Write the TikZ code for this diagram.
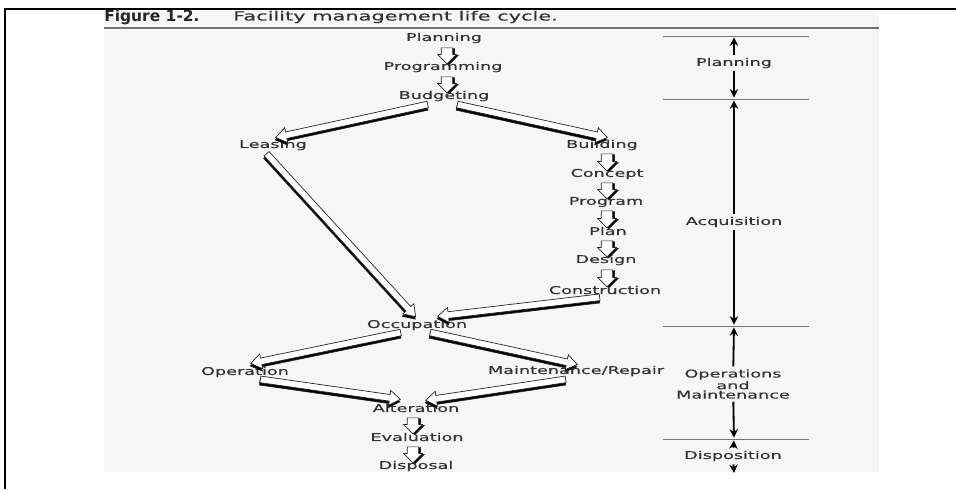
\documentclass[tikz,border=0pt]{standalone}
\usepackage{fontspec}
\setmainfont{DejaVu Sans}
\newfontfamily\widefont[FakeStretch=1.65,FakeBold=0.4]{DejaVu Sans}
\usetikzlibrary{calc,shapes.arrows,arrows.meta}

\definecolor{bg}{HTML}{F6F6F6}

\tikzset{
  lbl/.style={inner sep=0pt, text=black!80, font=\widefont\fontsize{7.6}{6.6}\selectfont},
  fat/.style={single arrow, draw=black!85, fill=white, line width=0.5pt, inner xsep=0pt,
    inner ysep=2.1pt, single arrow head extend=3pt, single arrow tip angle=70},
  stubby/.style={inner ysep=3.8pt, single arrow head extend=2.6pt, single arrow tip angle=90,
    shadowoff={(1.3pt,-0.7pt)}},
  shadowoff/.store in=\shoff,
  tick/.style={draw=black!55, line width=0.6pt},
  span/.style={line width=1.3pt, shorten >=1pt, shorten <=2pt, -{Stealth[length=6pt,width=6pt]}},
}

% hollow block arrow from #2 to #3, with a black copy under it
\newcommand{\blockarrow}[3][]{%
  \path[shadowoff={(-0.3pt,-1.7pt)},#1] let \p1=(#2), \p2=(#3),
      \n1={veclen(\x2-\x1,\y2-\y1)}, \n2={atan2(\y2-\y1,\x2-\x1)} in
    ([shift=\shoff]{0.5*\x1+0.5*\x2},{0.5*\y1+0.5*\y2}) node[fat,#1,fill=black,minimum height=\n1,rotate=\n2] {}
    ({0.5*\x1+0.5*\x2},{0.5*\y1+0.5*\y2}) node[fat,#1,minimum height=\n1,rotate=\n2] {};}

\begin{document}
\begin{tikzpicture}[x=0.025cm, y=-0.025cm]
    \useasboundingbox (0,0) rectangle (956,489);

    % Frame and page
    \fill[bg] (104,11) rectangle (879,472);
    \draw[line width=2pt] (5,489) -- (5,9) -- (956,9);
    \draw[black!55, line width=1.6pt] (104,28) -- (879,28);

    % Title
    \node[anchor=west, inner sep=0pt, text=black!85, font=\fontsize{11}{12}\selectfont\bfseries] (fig) at (104,17) {Figure 1-2.};
    \node[anchor=west, inner sep=0pt, text=black!80, font=\widefont\fontsize{9}{10}\selectfont] (ttl) at (233,17) {Facility management life cycle.};

    % Stages
    \node[lbl] (pla) at (444,38) {Planning};
    \node[lbl] (pro) at (443,67) {Programming};
    \node[lbl] (bud) at (444,96) {Budgeting};
    \node[lbl] (lea) at (273,145) {Leasing};
    \node[lbl] (bld) at (602,145) {Building};
    \node[lbl] (cpt) at (607,174) {Concept};
    \node[lbl] (prg) at (606,202) {Program};
    \node[lbl] (pln) at (608,231) {Plan};
    \node[lbl] (dsg) at (606,260) {Design};
    \node[lbl] (con) at (605,290) {Construction};
    \node[lbl] (occ) at (417,325) {Occupation};
    \node[lbl] (ope) at (245,372) {Operation};
    \node[lbl] (mnt) at (576,371) {Maintenance/Repair};
    \node[lbl] (alt) at (416,408) {Alteration};
    \node[lbl] (eva) at (417,437) {Evaluation};
    \node[lbl] (dis) at (416,466) {Disposal};

    % Short steps
    \blockarrow[stubby]{$(pla)+(3,7)$}{$(pro)+(4,-6)$}
    \blockarrow[stubby]{$(pro)+(4,7)$}{$(bud)+(3,-6)$}
    \blockarrow[stubby]{$(bld)+(5,6)$}{$(cpt)+(0,-6)$}
    \blockarrow[stubby]{$(cpt)+(0,6)$}{$(prg)+(1,-6)$}
    \blockarrow[stubby]{$(prg)+(1,6)$}{$(pln)+(-1,-6)$}
    \blockarrow[stubby]{$(pln)+(-1,7)$}{$(dsg)+(1,-6)$}
    \blockarrow[stubby]{$(dsg)+(1,7)$}{$(con)+(2,-6)$}
    \blockarrow[stubby]{$(alt)+(-3,7)$}{$(eva)+(-4,-6)$}
    \blockarrow[stubby]{$(eva)+(-4,7)$}{$(dis)+(-3,-6)$}

    % Long branches
    \blockarrow{$(bud)+(-14,8)$}{$(lea)+(5,-8)$}
    \blockarrow{$(bud)+(11,8)$}{$(bld)+(3,-8)$}
    \blockarrow{$(lea)+(-8,7)$}{$(occ)+(-3,-10)$}
    \blockarrow{$(con)+(-3,7)$}{$(occ)+(23,-9)$}
    \blockarrow{$(occ)+(-14,7)$}{$(ope)+(8,-9)$}
    \blockarrow{$(occ)+(11,7)$}{$(mnt)+(-1,-7)$}
    \blockarrow{$(ope)+(13,7)$}{$(alt)+(-18,-9)$}
    \blockarrow{$(mnt)+(-8,8)$}{$(alt)+(12,-8)$}

    % Phase scale
    \coordinate (h1) at (734,36);
    \coordinate (h2) at (734,99);
    \coordinate (h3) at (734,326);
    \coordinate (h4) at (734,439);
    \coordinate (h5) at (734,473);
    \foreach \h in {h1,h2,h3,h4}
        \draw[tick] ($(\h)+(-71,0)$) -- ($(\h)+(75,0)$);

    \node[lbl] (phpla) at (734,63) {Planning};
    \node[lbl] (phacq) at (734,222) {Acquisition};
    \node[lbl, align=center] (phom) at (733,384) {Operations\\and\\Maintenance};
    \node[lbl] (phdis) at (733,456) {Disposition};

    \draw[span] (phpla) -- (h1);
    \draw[span] (phpla) -- (h2);
    \draw[span] (phacq) -- (h2);
    \draw[span] (phacq) -- (h3);
    \draw[span] (phom) -- (h3);
    \draw[span] (phom) -- (h4);
    \draw[span] (phdis) -- (h4);
    \draw[span, shorten >=0pt] (phdis) -- (h5);
\end{tikzpicture}
\end{document}
